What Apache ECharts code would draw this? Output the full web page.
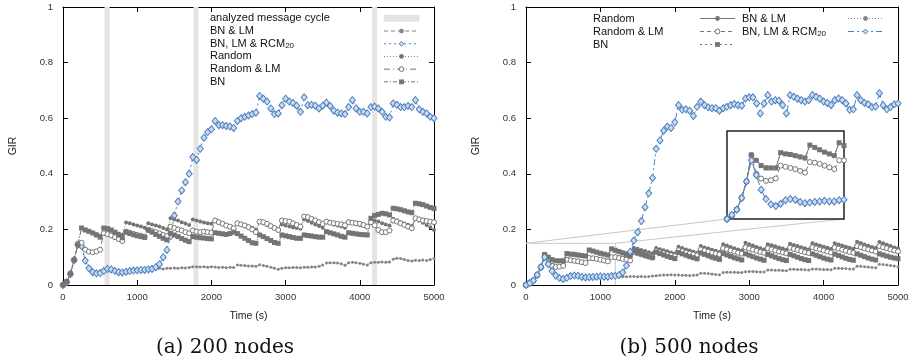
<!DOCTYPE html>
<html>
<head>
<meta charset="utf-8">
<script src="https://cdn.jsdelivr.net/npm/echarts@6/dist/echarts.min.js"></script>
<style>
  html, body { margin: 0; padding: 0; background: #ffffff; }
  #chart { width: 923px; height: 361px; }
</style>
</head>
<body>
<div id="chart"></div>
<script>
// Sample times (s), one GIR sample every 50 s
const TIMES = [0,50,100,150,200,250,300,350,400,450,500,
  550,600,650,700,750,800, 850,900,950,1000,1050,1100, 1150,1200,1250,1300,1350,1400,
  1450,1500,1550,1600,1650,1700, 1750,1800,1850,1900,1950,2000, 2050,2100,2150,2200,2250,2300,
  2350,2400,2450,2500,2550,2600, 2650,2700,2750,2800,2850,2900, 2950,3000,3050,3100,3150,3200,
  3250,3300,3350,3400,3450,3500, 3550,3600,3650,3700,3750,3800, 3850,3900,3950,4000,4050,4100,
  4150,4200,4250,4300,4350,4400, 4450,4500,4550,4600,4650,4700, 4750,4800,4850,4900,4950,5000];

const X_TICKS = [0, 1000, 2000, 3000, 4000, 5000];
const Y_TICKS = [0, 0.2, 0.4, 0.6, 0.8, 1];

// Analyzed message cycles, 200-node run: [start, end] in s
const CYCLE_START = [560, 1758, 4166];
const CYCLE_END = [628, 1825, 4233];

// ---- (a) 200 nodes ----
const A_BN_LM = [0,0.01,0.04,0.09,0.145,0.14,0.088,0.06,0.046,0.042,0.043,
  0.05,0.058,0.056,0.05,0.046,0.045,  0.048,0.05,0.052,0.053,0.054,0.054,
  0.056,0.058,0.06,0.06,0.058,0.06,   0.06,0.061,0.06,0.062,0.061,0.063,
  0.066,0.066,0.065,0.066,0.064,0.066, 0.065,0.063,0.064,0.062,0.064,0.063,
  0.072,0.071,0.07,0.068,0.068,0.067, 0.073,0.07,0.067,0.064,0.06,0.057,
  0.06,0.062,0.062,0.063,0.063,0.062, 0.064,0.064,0.065,0.065,0.067,0.072,
  0.079,0.08,0.08,0.079,0.076,0.071,  0.08,0.082,0.08,0.078,0.075,0.072,
  0.08,0.082,0.082,0.083,0.082,0.083, 0.093,0.096,0.095,0.092,0.088,0.086,
  0.089,0.088,0.09,0.088,0.092,0.095];

const A_BN_LM_RCM = [0,0.01,0.04,0.09,0.145,0.14,0.088,0.06,0.046,0.042,0.043,
  0.05,0.058,0.056,0.05,0.046,0.045,  0.048,0.05,0.052,0.053,0.054,0.054,
  0.056,0.058,0.064,0.075,0.1,0.126,  0.175,0.25,0.30,0.34,0.37,0.40,
  0.46,0.45,0.49,0.53,0.55,0.56,      0.59,0.575,0.575,0.572,0.57,0.565,
  0.59,0.60,0.605,0.61,0.615,0.62,    0.68,0.67,0.66,0.635,0.615,0.617,
  0.647,0.67,0.66,0.655,0.645,0.623,  0.675,0.647,0.648,0.645,0.635,0.645,
  0.656,0.644,0.627,0.62,0.617,0.615, 0.64,0.665,0.635,0.623,0.623,0.617,
  0.64,0.642,0.635,0.623,0.605,0.603, 0.653,0.648,0.64,0.64,0.644,0.64,
  0.665,0.632,0.623,0.617,0.605,0.60];

const A_RANDOM = [0,0.012,0.04,0.09,0.148,0.205,0.197,0.193,0.188,0.183,0.177,
  0.204,0.2,0.196,0.19,0.185,0.18,    0.225,0.222,0.218,0.214,0.21,0.206,
  0.222,0.218,0.214,0.21,0.205,0.2,   0.24,0.236,0.232,0.226,0.221,0.216,
  0.236,0.232,0.228,0.225,0.222,0.22, 0.235,0.228,0.222,0.215,0.21,0.204,
  0.222,0.218,0.214,0.21,0.206,0.2,   0.228,0.222,0.216,0.21,0.206,0.2,
  0.218,0.214,0.21,0.207,0.205,0.202, 0.236,0.23,0.224,0.218,0.212,0.206,
  0.226,0.222,0.218,0.214,0.21,0.206, 0.228,0.224,0.22,0.216,0.212,0.208,
  0.236,0.232,0.228,0.222,0.218,0.214, 0.238,0.232,0.226,0.221,0.217,0.212,
  0.238,0.232,0.224,0.216,0.208,0.198];

const A_RANDOM_LM = [0,0.012,0.04,0.09,0.148,0.152,0.127,0.12,0.118,0.121,0.127,
  0.186,0.183,0.178,0.172,0.165,0.158, 0.192,0.188,0.184,0.18,0.177,0.174,
  0.198,0.194,0.19,0.186,0.18,0.176,   0.21,0.205,0.2,0.196,0.19,0.186,
  0.196,0.192,0.19,0.192,0.19,0.188,   0.232,0.226,0.22,0.214,0.21,0.204,
  0.222,0.218,0.214,0.208,0.2,0.19,    0.228,0.226,0.22,0.212,0.205,0.198,
  0.232,0.23,0.228,0.222,0.216,0.21,   0.246,0.244,0.238,0.232,0.226,0.22,
  0.228,0.224,0.222,0.22,0.218,0.215,  0.226,0.224,0.222,0.22,0.216,0.21,
  0.226,0.215,0.198,0.19,0.19,0.196,   0.232,0.228,0.222,0.216,0.21,0.204,
  0.24,0.236,0.232,0.23,0.228,0.226];

const A_BN = [0,0.012,0.04,0.09,0.145,0.205,0.198,0.193,0.187,0.18,0.172,
  0.205,0.203,0.198,0.19,0.18,0.17,    0.19,0.185,0.181,0.177,0.174,0.171,
  0.198,0.19,0.182,0.175,0.168,0.162,  0.186,0.18,0.174,0.167,0.161,0.156,
  0.174,0.172,0.17,0.169,0.167,0.166,  0.188,0.186,0.184,0.182,0.185,0.19,
  0.185,0.176,0.168,0.16,0.152,0.15,   0.18,0.174,0.167,0.16,0.153,0.15,
  0.18,0.177,0.174,0.171,0.168,0.168,  0.18,0.178,0.176,0.174,0.172,0.172,
  0.192,0.188,0.184,0.18,0.175,0.172,  0.188,0.186,0.184,0.182,0.181,0.18,
  0.24,0.25,0.254,0.258,0.256,0.252,   0.276,0.274,0.271,0.267,0.263,0.26,
  0.294,0.292,0.289,0.284,0.279,0.275];

// ---- (b) 500 nodes ----
const B_RANDOM = [0,0.006,0.016,0.036,0.064,0.109,0.1,0.092,0.088,0.087,0.087,
  0.113,0.111,0.109,0.107,0.105,0.103, 0.126,0.122,0.118,0.114,0.111,0.108,
  0.13,0.126,0.122,0.118,0.114,0.11,   0.134,0.13,0.126,0.122,0.118,0.114,
  0.133,0.129,0.125,0.121,0.117,0.113, 0.138,0.133,0.128,0.124,0.12,0.116,
  0.14,0.135,0.131,0.127,0.123,0.119,  0.147,0.142,0.137,0.132,0.128,0.124,
  0.152,0.147,0.142,0.137,0.132,0.128, 0.147,0.143,0.139,0.135,0.131,0.127,
  0.148,0.144,0.14,0.136,0.132,0.128,  0.15,0.146,0.142,0.138,0.134,0.13,
  0.15,0.146,0.142,0.138,0.134,0.13,   0.156,0.151,0.146,0.141,0.137,0.133,
  0.155,0.15,0.145,0.14,0.135,0.132];

const B_RANDOM_LM = [0,0.006,0.016,0.036,0.064,0.109,0.077,0.069,0.065,0.066,0.069,
  0.091,0.089,0.087,0.085,0.082,0.079, 0.097,0.096,0.094,0.091,0.088,0.085,
  0.1,0.1,0.097,0.094,0.091,0.088,     0.118,0.114,0.11,0.106,0.103,0.1,
  0.122,0.118,0.114,0.11,0.107,0.104,  0.125,0.121,0.117,0.113,0.11,0.107,
  0.128,0.124,0.12,0.116,0.113,0.11,   0.132,0.128,0.124,0.12,0.116,0.113,
  0.135,0.131,0.127,0.123,0.119,0.116, 0.132,0.128,0.124,0.12,0.117,0.114,
  0.134,0.13,0.126,0.122,0.118,0.115,  0.136,0.132,0.128,0.124,0.12,0.117,
  0.135,0.131,0.127,0.123,0.119,0.116, 0.14,0.136,0.132,0.128,0.124,0.12,
  0.14,0.136,0.132,0.128,0.124,0.121];

const B_BN = [0,0.007,0.016,0.036,0.064,0.109,0.1,0.091,0.087,0.087,0.087,
  0.113,0.111,0.11,0.108,0.106,0.104,  0.126,0.122,0.118,0.114,0.111,0.108,
  0.13,0.125,0.12,0.115,0.11,0.105,    0.122,0.117,0.112,0.107,0.102,0.098,
  0.118,0.113,0.108,0.103,0.099,0.095, 0.117,0.112,0.107,0.102,0.098,0.094,
  0.115,0.11,0.105,0.1,0.096,0.092,    0.113,0.108,0.103,0.098,0.094,0.09,
  0.112,0.107,0.102,0.097,0.093,0.089, 0.11,0.105,0.1,0.095,0.091,0.088,
  0.11,0.105,0.1,0.095,0.091,0.088,    0.112,0.107,0.102,0.097,0.093,0.09,
  0.111,0.106,0.101,0.096,0.092,0.089, 0.112,0.107,0.102,0.097,0.093,0.09,
  0.112,0.108,0.104,0.1,0.097,0.095];

const B_BN_LM = [0,0.007,0.016,0.036,0.064,0.1,0.075,0.05,0.034,0.025,0.022,
  0.026,0.032,0.034,0.033,0.029,0.027, 0.028,0.029,0.03,0.031,0.03,0.03,
  0.032,0.033,0.031,0.03,0.03,0.031,   0.031,0.03,0.031,0.03,0.031,0.032,
  0.033,0.035,0.036,0.036,0.037,0.036, 0.036,0.035,0.035,0.034,0.035,0.036,
  0.042,0.042,0.041,0.04,0.038,0.037,  0.045,0.046,0.046,0.046,0.045,0.045,
  0.048,0.049,0.049,0.048,0.047,0.047, 0.054,0.054,0.053,0.053,0.052,0.051,
  0.057,0.057,0.056,0.056,0.055,0.054, 0.058,0.058,0.057,0.056,0.056,0.055,
  0.06,0.06,0.059,0.059,0.058,0.058,   0.067,0.067,0.066,0.065,0.063,0.062,
  0.075,0.074,0.072,0.07,0.068,0.066];

const B_BN_LM_RCM = [0,0.007,0.016,0.036,0.064,0.1,0.075,0.05,0.034,0.025,0.022,
  0.026,0.032,0.034,0.033,0.029,0.027, 0.028,0.029,0.03,0.031,0.03,0.03,
  0.032,0.033,0.036,0.045,0.07,0.12,   0.16,0.19,0.23,0.28,0.33,0.385,
  0.49,0.52,0.555,0.57,0.565,0.585,    0.647,0.63,0.632,0.627,0.608,0.641,
  0.66,0.647,0.639,0.636,0.636,0.627,  0.636,0.641,0.647,0.651,0.647,0.645,
  0.671,0.675,0.675,0.653,0.617,0.653, 0.683,0.66,0.665,0.663,0.647,0.617,
  0.683,0.677,0.67,0.665,0.66,0.665,   0.683,0.677,0.67,0.66,0.655,0.647,
  0.665,0.671,0.665,0.653,0.63,0.632,  0.683,0.665,0.655,0.65,0.64,0.642,
  0.69,0.647,0.632,0.64,0.65,0.653];

// Zoomed window of the 500-node plot
const ZOOM_T_MAX = 1200;
const ZOOM_GIR_MAX = 0.15;

const LABELS = {
  band: 'analyzed message cycle',
  bnlm: 'BN & LM',
  rcm: 'BN, LM & RCM',
  random: 'Random',
  randlm: 'Random & LM',
  bn: 'BN'
};

const FONT = '"Liberation Sans", Arial, Helvetica, sans-serif';
const GRAY = '#747474';
const BLUE = '#4a7fc0';

const MARKERS = {
  random: { symbol: 'circle', symbolSize: 4, itemStyle: { color: GRAY }, color: GRAY },
  randlm: { symbol: 'circle', symbolSize: 5, itemStyle: { color: '#ffffff', borderColor: GRAY, borderWidth: 1 }, color: GRAY },
  bn:     { symbol: 'rect', symbolSize: 5, itemStyle: { color: GRAY }, color: GRAY },
  bnlm:   { symbol: 'circle', symbolSize: 3, itemStyle: { color: '#858585' }, color: '#858585' },
  rcm:    { symbol: 'diamond', symbolSize: [6, 7], itemStyle: { color: '#cddbef', borderColor: BLUE, borderWidth: 1 }, color: BLUE }
};

function pairs(values, tMax) {
  const out = [];
  TIMES.forEach((t, i) => { if (tMax == null || t <= tMax) out.push([t, values[i]]); });
  return out;
}

function lineSeries(name, key, values, dash, axisIndex, tMax) {
  const m = MARKERS[key];
  return {
    name: name,
    type: 'line',
    xAxisIndex: axisIndex,
    yAxisIndex: axisIndex,
    data: pairs(values, tMax),
    symbol: m.symbol,
    symbolSize: m.symbolSize,
    showSymbol: true,
    showAllSymbol: true,
    itemStyle: m.itemStyle,
    lineStyle: { color: m.color, width: 1, type: dash },
    emphasis: { disabled: true },
    silent: true,
    animation: false
  };
}

function legendFormatter(name) {
  const key = name.slice(2);
  if (key === 'rcm') return '{n|' + LABELS.rcm + '}{s|20}';
  return '{n|' + LABELS[key] + '}';
}

function legendBox(left, top, names, textWidth, lineHeight) {
  return {
    orient: 'vertical',
    left: left,
    top: top,
    padding: 0,
    itemGap: 0,
    itemWidth: 35,
    itemHeight: 6,
    align: 'right',
    selectedMode: false,
    data: names,
    formatter: legendFormatter,
    lineStyle: { width: 1 },
    itemStyle: { borderWidth: 1 },
    textStyle: {
      width: textWidth,
      fontFamily: FONT,
      fontSize: 11,
      color: '#111',
      lineHeight: lineHeight,
      rich: {
        n: { align: 'left', fontFamily: FONT, fontSize: 11, lineHeight: lineHeight, color: '#111' },
        s: { align: 'left', fontFamily: FONT, fontSize: 8, lineHeight: lineHeight, verticalAlign: 'bottom', color: '#111' }
      }
    }
  };
}

function mainX(gridIndex, position, showLabels) {
  return {
    type: 'value', gridIndex: gridIndex, position: position,
    min: X_TICKS[0], max: X_TICKS[X_TICKS.length - 1], interval: X_TICKS[1] - X_TICKS[0],
    name: showLabels ? 'Time (s)' : '',
    nameLocation: 'middle', nameGap: 26,
    nameTextStyle: { fontFamily: FONT, fontSize: 10.5, color: '#222' },
    axisLine: { show: true, onZero: false, lineStyle: { color: '#000', width: 1 } },
    axisTick: { show: true, inside: true, length: 5, lineStyle: { color: '#000' } },
    axisLabel: { show: showLabels, fontFamily: FONT, fontSize: 9.5, color: '#333', margin: 7,
      formatter: v => String(v) },
    splitLine: { show: false }
  };
}

function mainY(gridIndex, position, showLabels) {
  return {
    type: 'value', gridIndex: gridIndex, position: position,
    min: Y_TICKS[0], max: Y_TICKS[Y_TICKS.length - 1], interval: Y_TICKS[1] - Y_TICKS[0],
    name: showLabels ? 'GIR' : '',
    nameLocation: 'middle', nameGap: 44,
    nameTextStyle: { fontFamily: FONT, fontSize: 10.5, color: '#222' },
    axisLine: { show: true, onZero: false, lineStyle: { color: '#000', width: 1 } },
    axisTick: { show: true, inside: true, length: 5, lineStyle: { color: '#000' } },
    axisLabel: { show: showLabels, fontFamily: FONT, fontSize: 9.5, color: '#333', margin: 10,
      formatter: v => String(Math.round(v * 10) / 10) },
    splitLine: { show: false }
  };
}

const chart = echarts.init(document.getElementById('chart'), null, { renderer: 'canvas' });

const bands = CYCLE_START.map((s, i) => [{ xAxis: s }, { xAxis: CYCLE_END[i] }]);

const series = [
  // (a) 200 nodes
  {
    name: 'a-band', type: 'line', xAxisIndex: 0, yAxisIndex: 0, data: [],
    color: '#e4e4e4', silent: true, animation: false,
    markArea: { silent: true, itemStyle: { color: '#e4e4e4' }, data: bands }
  },
  lineSeries('a-bnlm', 'bnlm', A_BN_LM, [4, 3], 0),
  lineSeries('a-rcm', 'rcm', A_BN_LM_RCM, [2, 3], 0),
  lineSeries('a-random', 'random', A_RANDOM, [1, 2], 0),
  lineSeries('a-randlm', 'randlm', A_RANDOM_LM, [6, 3, 1, 3], 0),
  lineSeries('a-bn', 'bn', A_BN, [4, 2, 1, 2], 0),

  // (b) 500 nodes: outline of the zoomed window
  {
    name: 'b-window', type: 'line', xAxisIndex: 2, yAxisIndex: 2,
    data: [[0, ZOOM_GIR_MAX], [ZOOM_T_MAX, ZOOM_GIR_MAX], [ZOOM_T_MAX, 0]],
    showSymbol: false, silent: true, animation: false,
    lineStyle: { color: '#c8c8c8', width: 1 }
  },
  lineSeries('b-random', 'random', B_RANDOM, 'solid', 2),
  lineSeries('b-randlm', 'randlm', B_RANDOM_LM, [4, 3], 2),
  lineSeries('b-bn', 'bn', B_BN, [2, 3], 2),
  lineSeries('b-bnlm', 'bnlm', B_BN_LM, [1, 2], 2),
  lineSeries('b-rcm', 'rcm', B_BN_LM_RCM, [6, 3, 2, 3], 2),

  // zoomed view of the first 1200 s
  lineSeries('z-random', 'random', B_RANDOM, 'solid', 4, ZOOM_T_MAX),
  lineSeries('z-randlm', 'randlm', B_RANDOM_LM, [4, 3], 4, ZOOM_T_MAX),
  lineSeries('z-bn', 'bn', B_BN, [2, 3], 4, ZOOM_T_MAX),
  lineSeries('z-bnlm', 'bnlm', B_BN_LM, [1, 2], 4, ZOOM_T_MAX),
  lineSeries('z-rcm', 'rcm', B_BN_LM_RCM, [6, 3, 2, 3], 4, ZOOM_T_MAX)
];

chart.setOption({
  backgroundColor: '#ffffff',
  animation: false,
  grid: [
    { left: 63, top: 7, width: 371, height: 278 },
    { left: 526, top: 7, width: 372, height: 278 },
    { left: 727, top: 131, width: 117, height: 88, show: true, backgroundColor: '#ffffff', borderColor: '#222', borderWidth: 1.5, z: 3 }
  ],
  xAxis: [
    mainX(0, 'bottom', true), mainX(0, 'top', false),
    mainX(1, 'bottom', true), mainX(1, 'top', false),
    { type: 'value', gridIndex: 2, min: 0, max: ZOOM_T_MAX, show: false }
  ],
  yAxis: [
    mainY(0, 'left', true), mainY(0, 'right', false),
    mainY(1, 'left', true), mainY(1, 'right', false),
    { type: 'value', gridIndex: 2, min: 0, max: ZOOM_GIR_MAX, show: false }
  ],
  legend: [
    legendBox(210, 12, [
      { name: 'a-band', icon: 'rect', itemStyle: { color: '#e4e4e4', borderColor: '#d4d4d4', borderWidth: 0.5 } },
      'a-bnlm', 'a-rcm', 'a-random', 'a-randlm', 'a-bn'
    ], 169, 12.7),
    legendBox(593, 12, ['b-random', 'b-randlm', 'b-bn'], 102, 13),
    legendBox(742, 12, ['b-bnlm', 'b-rcm'], 101, 13)
  ],
  series: series
});

// Connector lines from the zoomed window to the inset, plus sub-figure captions
const winTL = chart.convertToPixel({ gridIndex: 1 }, [0, ZOOM_GIR_MAX]);
const winTR = chart.convertToPixel({ gridIndex: 1 }, [ZOOM_T_MAX, ZOOM_GIR_MAX]);
const insBL = chart.convertToPixel({ gridIndex: 2 }, [0, 0]);
const insBR = chart.convertToPixel({ gridIndex: 2 }, [ZOOM_T_MAX, 0]);
const capStyle = { font: '20px "DejaVu Serif", "Liberation Serif", serif', fill: '#111', textAlign: 'center', textVerticalAlign: 'middle' };

chart.setOption({
  graphic: [
    { type: 'line', silent: true, z: 1, shape: { x1: winTL[0], y1: winTL[1], x2: insBL[0], y2: insBL[1] }, style: { stroke: '#c8c8c8', lineWidth: 1 } },
    { type: 'line', silent: true, z: 1, shape: { x1: winTR[0], y1: winTR[1], x2: insBR[0], y2: insBR[1] }, style: { stroke: '#c8c8c8', lineWidth: 1 } },
    { type: 'text', silent: true, x: 225, y: 348, style: Object.assign({ text: '(a) 200 nodes' }, capStyle) },
    { type: 'text', silent: true, x: 689, y: 348, style: Object.assign({ text: '(b) 500 nodes' }, capStyle) }
  ]
});
</script>
</body>
</html>
